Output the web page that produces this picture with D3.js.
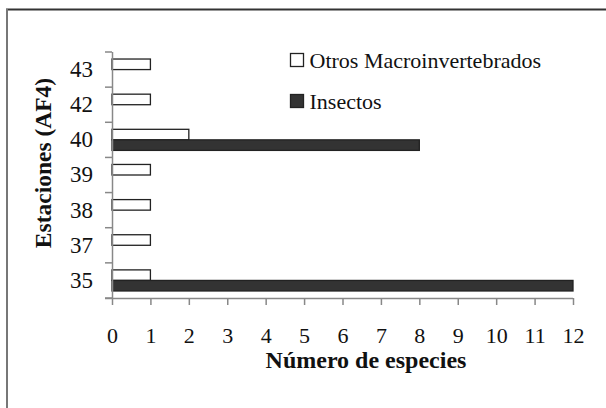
<!DOCTYPE html>
<html>
<head>
<meta charset="utf-8">
<script src="https://cdn.jsdelivr.net/npm/d3@7"></script>
<style>
  body { margin: 0; background: #fff; }
  text { font-family: "Liberation Serif", "Times New Roman", serif; fill: #111; }
</style>
</head>
<body>
<script>
var width = 606,
    height = 408;

// estaciones, de arriba hacia abajo
var estaciones = ["43", "42", "40", "39", "38", "37", "35"];
var series = ["Otros Macroinvertebrados", "Insectos"];
var otros = [1, 1, 2, 1, 1, 1, 1];
var insectos = [0, 0, 8, 0, 0, 0, 12];
var xTicks = [0, 1, 2, 3, 4, 5, 6, 7, 8, 9, 10, 11, 12];

var fills = ["#fff", "#333"];

var svg = d3.select("body").append("svg")
    .attr("width", width)
    .attr("height", height);

// marco (solo se ven el borde superior e izquierdo)
svg.append("line")
    .attr("x1", 6).attr("x2", width).attr("y1", 9.5).attr("y2", 9.5)
    .attr("stroke", "#333").attr("stroke-width", 2);
svg.append("line")
    .attr("x1", 7).attr("x2", 7).attr("y1", 9).attr("y2", height)
    .attr("stroke", "#777").attr("stroke-width", 2);

var x = d3.scaleLinear()
    .domain([0, 12])
    .range([112, 573]);

var y = d3.scaleBand()
    .domain(estaciones)
    .range([52, 298])
    .paddingInner(0.4)
    .paddingOuter(0.2);

var ySub = d3.scaleBand()
    .domain(series)
    .range([0, y.bandwidth()]);

var rows = estaciones.map(function(e, i) {
  return {estacion: e, values: [otros[i], insectos[i]]};
});

// barras
var group = svg.append("g")
    .selectAll("g")
    .data(rows)
    .enter().append("g")
    .attr("transform", function(d) { return "translate(0," + y(d.estacion) + ")"; });

group.selectAll("rect")
    .data(function(d) {
      return d.values.map(function(v, j) { return {serie: series[j], value: v, j: j}; })
        .filter(function(s) { return s.value > 0; });
    })
    .enter().append("rect")
    .attr("x", x(0))
    .attr("y", function(d) { return ySub(d.serie); })
    .attr("width", function(d) { return x(d.value) - x(0); })
    .attr("height", ySub.bandwidth())
    .attr("fill", function(d) { return fills[d.j]; })
    .attr("stroke", "#222")
    .attr("stroke-width", 1.3);

// eje x
var xAxis = svg.append("g")
    .attr("transform", "translate(0,298)")
    .call(d3.axisBottom(x).tickValues(xTicks).tickSize(7).tickPadding(22).tickSizeOuter(0));
xAxis.select(".domain").attr("d", "M105,0.5H" + x(12)).attr("stroke", "#888").attr("stroke-width", 1.5);
xAxis.selectAll(".tick line").attr("stroke", "#888").attr("stroke-width", 1.5);
xAxis.selectAll("text")
    .style("font-family", "Liberation Serif")
    .style("font-size", "22px")
    .attr("fill", "#111");

// eje y: etiquetas al centro de cada banda
var yAxis = svg.append("g")
    .attr("transform", "translate(" + x(0) + ",0)")
    .call(d3.axisLeft(y).tickSize(0).tickPadding(19));
yAxis.select(".domain").attr("d", "M0.5,52V298").attr("stroke", "#888").attr("stroke-width", 1.5);
yAxis.selectAll("text")
    .style("font-family", "Liberation Serif")
    .style("font-size", "23px")
    .attr("fill", "#111");

// marcas de separación entre estaciones
var bounds = estaciones.map(function(e) { return y(e) - y.step() * y.paddingInner() / 2; });
bounds.push(298);
svg.append("g").selectAll("line")
    .data(bounds)
    .enter().append("line")
    .attr("x1", x(0) - 7).attr("x2", x(0))
    .attr("y1", function(d) { return d; })
    .attr("y2", function(d) { return d; })
    .attr("stroke", "#888")
    .attr("stroke-width", 1.5);

// títulos
svg.append("text")
    .attr("x", 366)
    .attr("y", 368)
    .attr("text-anchor", "middle")
    .style("font-size", "24px")
    .style("font-weight", "bold")
    .text("Número de especies");

svg.append("text")
    .attr("transform", "translate(51,163) rotate(-90)")
    .attr("text-anchor", "middle")
    .style("font-size", "23.5px")
    .style("font-weight", "bold")
    .text("Estaciones (AF4)");

// leyenda
var legend = svg.append("g")
    .selectAll("g")
    .data(series)
    .enter().append("g")
    .attr("transform", function(d, i) { return "translate(290.5," + (53.5 + i * 41) + ")"; });

legend.append("rect")
    .attr("width", 13)
    .attr("height", 13)
    .attr("fill", function(d, i) { return fills[i]; })
    .attr("stroke", "#222")
    .attr("stroke-width", 1.3);

legend.append("text")
    .attr("x", 19)
    .attr("y", 14)
    .style("font-size", "22px")
    .text(function(d) { return d; });
</script>
</body>
</html>
